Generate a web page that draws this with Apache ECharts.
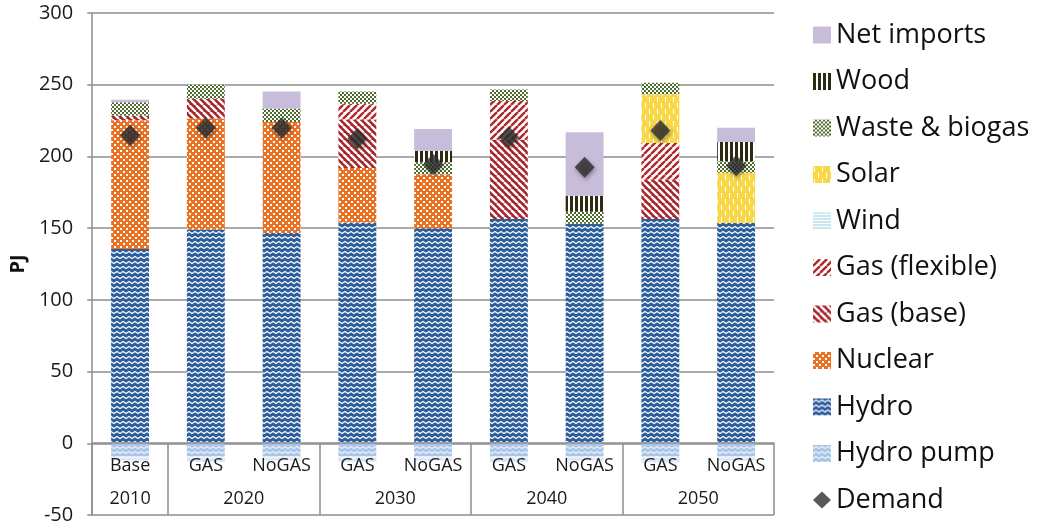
<!DOCTYPE html>
<html><head><meta charset="utf-8">
<script src="https://cdn.jsdelivr.net/npm/echarts@6/dist/echarts.min.js"></script>
<style>html,body{margin:0;padding:0;background:#fff}#c{width:1046px;height:531px}</style>
</head><body><div id="c"></div>
<script>
// ---- data ----
const scenarios = ['Base','GAS','NoGAS','GAS','NoGAS','GAS','NoGAS','GAS','NoGAS'];
const years = ['2010','2020','2030','2040','2050'];
const yearSpans = [1,2,2,2,2];
const yTicks = [-50,0,50,100,150,200,250,300];
const hydroPump = [-12,-13,-12,-13,-12,-13,-12,-14,-12];
const hydro = [135.5,149,146.7,154,150,156.4,153,156.4,153.7];
const nuclear = [89.8,77.5,77.3,38,37.5,0,0,0,0];
const gasBase = [3.2,13.8,0,33.8,0,55.2,0,27.6,0];
const gasFlex = [0,0,0,11,0,27,0,25.3,0];
const wind = [0,0,0,0,0,0,0,0,0];
const solar = [0,0,0,0,0,0,0,34,34.9];
const waste = [9.3,9.7,9.5,8.5,8.5,8,8.5,8,8.1];
const wood = [0,0,0,0,8,0,11,0,13.3];
const netImports = [1.8,0,11.8,0,15.2,0,44.4,0,10];
const demand = [215,220,220,212.5,194.5,213.5,192.5,218,193.5];

// ---- patterns ----
function pat(w,h,draw){const c=document.createElement('canvas');c.width=w;c.height=h;const x=c.getContext('2d');draw(x,w,h);return {image:c,repeat:'repeat'};}
function zigzag(bg,fg){return pat(6,5,(x,w,h)=>{x.fillStyle=bg;x.fillRect(0,0,w,h);x.strokeStyle=fg;x.lineWidth=1.3;x.beginPath();x.moveTo(-3,1.5);x.lineTo(0,3.5);x.lineTo(3,1.5);x.lineTo(6,3.5);x.lineTo(9,1.5);x.stroke();});}
function diag(bg,fg,dir,s,lw){return pat(s,s,(x,w,h)=>{x.fillStyle=bg;x.fillRect(0,0,w,h);x.strokeStyle=fg;x.lineWidth=lw;x.beginPath();for(let k=-1;k<=1;k++){if(dir==='\\'){x.moveTo(k*s,0);x.lineTo(k*s+s,s);}else{x.moveTo(k*s,s);x.lineTo(k*s+s,0);}}x.stroke();});}
const P = {
  hydro: zigzag('#2b5d9c','#ffffff'),
  pump: zigzag('#a9c6e8','#e8f0fa'),
  nuclear: pat(6,6,(x,w,h)=>{x.fillStyle='#ea7222';x.fillRect(0,0,w,h);x.fillStyle='#fff';x.fillRect(0,0,2,2);x.fillRect(3,3,2,2);}),
  gasBase: diag('#a8262b','#ffffff','\\',7,2.4),
  gasFlex: diag('#ffffff','#b0282d','/',7,2.4),
  wind: pat(2,3,(x,w,h)=>{x.fillStyle='#fff';x.fillRect(0,0,w,h);x.fillStyle='#8fcde4';x.fillRect(0,0,w,1);}),
  solar: pat(8,12,(x,w,h)=>{x.fillStyle='#f8d748';x.fillRect(0,0,w,h);x.fillStyle='#fff';x.fillRect(1,1,1,5);x.fillRect(5,7,1,5);}),
  waste: pat(4,4,(x,w,h)=>{x.fillStyle='#4c6b2d';x.fillRect(0,0,w,h);x.fillStyle='#fff';x.fillRect(0,0,2,2);x.fillRect(2,2,2,2);}),
  wood: pat(5,1,(x,w,h)=>{x.fillStyle='#fff';x.fillRect(0,0,w,h);x.fillStyle='#2c2c12';x.fillRect(0,0,3,1);}),
  imports: '#c8bcdb'
};

// year label centers and group boundaries derived from group spans
const yearCenter = {};
const groupStarts = new Set();
(function(){let s=0;yearSpans.forEach((n,i)=>{groupStarts.add(s);yearCenter[String(s+n/2)]=years[i];s+=n;});})();

const FONT = 'Open Sans';
const gridColor = '#8e8e8e';

function bar(name, data, color){
  return {name, type:'bar', stack:'total', data, barWidth:'50%', xAxisIndex:0, itemStyle:{color}, emphasis:{disabled:true}};
}

const series = [
  bar('Hydro pump', hydroPump, P.pump),
  bar('Hydro', hydro, P.hydro),
  bar('Nuclear', nuclear, P.nuclear),
  bar('Gas (base)', gasBase, P.gasBase),
  bar('Gas (flexible)', gasFlex, P.gasFlex),
  bar('Wind', wind, P.wind),
  bar('Solar', solar, P.solar),
  bar('Waste & biogas', waste, P.waste),
  bar('Wood', wood, P.wood),
  bar('Net imports', netImports, P.imports),
  {name:'Demand', type:'scatter', xAxisIndex:0, data:demand, symbol:'diamond', symbolSize:[20,21], z:5,
   itemStyle:{color:'#2f2f2f', shadowBlur:4, shadowColor:'rgba(0,0,0,0.45)', shadowOffsetX:1, shadowOffsetY:2}}
];

const chart = echarts.init(document.getElementById('c'), null, {renderer:'canvas'});
chart.setOption({
  animation:false,
  backgroundColor:'#fff',
  grid:{left:92, right:272, top:13, bottom:16, containLabel:false},
  legend:{
    orient:'vertical', left:813, top:20, itemWidth:18, itemHeight:17, itemGap:16.5, padding:0,
    data:[
      {name:'Net imports', icon:'rect'},{name:'Wood', icon:'rect'},{name:'Waste & biogas', icon:'rect'},
      {name:'Solar', icon:'rect'},{name:'Wind', icon:'rect'},{name:'Gas (flexible)', icon:'rect'},
      {name:'Gas (base)', icon:'rect'},{name:'Nuclear', icon:'rect'},{name:'Hydro', icon:'rect'},
      {name:'Hydro pump', icon:'rect'},{name:'Demand', icon:'diamond'}
    ],
    textStyle:{fontFamily:FONT, fontSize:27, lineHeight:30, color:'#111'},
    selectedMode:false
  },
  xAxis:[
    {type:'category', data:scenarios, position:'bottom', offset:-72, z:5,
     axisLine:{show:true, onZero:false, lineStyle:{color:gridColor, width:1.5}},
     axisTick:{show:false},
     axisLabel:{interval:0, margin:13, fontFamily:FONT, fontSize:18, color:'#1a1a1a',
                backgroundColor:'rgba(255,255,255,0.55)', padding:[1,2]},
     splitLine:{show:false}},
    {type:'value', position:'bottom', offset:-30, min:0, max:scenarios.length, interval:0.5, z:5,
     axisLine:{show:false, onZero:false}, axisTick:{show:false}, splitLine:{show:false},
     axisLabel:{margin:5, fontFamily:FONT, fontSize:18, color:'#1a1a1a',
                showMinLabel:true, showMaxLabel:true, hideOverlap:false,
                formatter:(v)=>yearCenter[String(v)]||''}},
    {type:'category', data:scenarios, position:'bottom', offset:-72, z:5,
     axisLine:{show:false, onZero:false},
     axisTick:{show:true, length:72, interval:(i)=>groupStarts.has(i), lineStyle:{color:gridColor, width:1.5}},
     axisLabel:{show:false}, splitLine:{show:false}}
  ],
  yAxis:{type:'value', min:yTicks[0], max:yTicks[yTicks.length-1], interval:50,
    name:'PJ', nameLocation:'middle', nameGap:62, nameTextStyle:{fontFamily:FONT, fontSize:20, fontWeight:'bold', color:'#111'},
    axisLine:{show:true, onZero:false, lineStyle:{color:gridColor, width:1.5}},
    axisTick:{show:true, length:5, lineStyle:{color:gridColor, width:1.5}},
    axisLabel:{margin:19, fontFamily:FONT, fontSize:20, color:'#1a1a1a'},
    splitLine:{show:true, lineStyle:{color:gridColor, width:1.5}}
  },
  series
});
</script></body></html>
